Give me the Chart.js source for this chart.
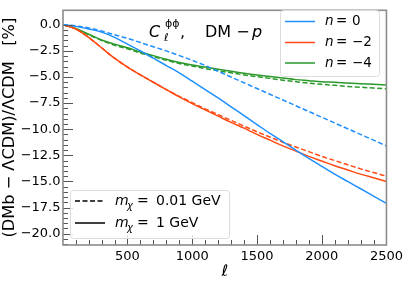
<!DOCTYPE html>
<html><head><meta charset="utf-8">
<script src="https://cdn.jsdelivr.net/npm/chart.js@4"></script>
<style>html,body{margin:0;padding:0;background:#fff}#wrap{width:407px;height:283px}</style>
</head><body><div id="wrap"><canvas id="c" width="407" height="283"></canvas></div>
<script>
const ell = [2,100,200,300,400,500,600,700,800,900,1000,1100,1200,1300,1400,1500,1600,1700,1800,1900,2000,2100,2200,2300,2400,2500];
// n = 0
const n0_001GeV = [0,-0.1,-0.3,-0.6,-0.95,-1.3,-1.7,-2.1,-2.5,-2.95,-3.4,-3.9,-4.45,-5.0,-5.55,-6.1,-6.65,-7.2,-7.75,-8.3,-8.85,-9.4,-9.95,-10.5,-11.05,-11.6];
const n0_1GeV = [0,-0.15,-0.4,-0.7,-1.2,-1.85,-2.5,-3.2,-3.9,-4.6,-5.4,-6.2,-7.0,-7.85,-8.7,-9.55,-10.4,-11.2,-12.0,-12.8,-13.55,-14.3,-15.0,-15.7,-16.4,-17.1];
// n = -2
const n2_001GeV = [0,-0.4,-1.2,-2.2,-3.2,-4.05,-4.8,-5.5,-6.2,-6.85,-7.45,-8.05,-8.6,-9.15,-9.7,-10.25,-10.75,-11.25,-11.7,-12.15,-12.6,-13.0,-13.4,-13.8,-14.15,-14.5];
const n2_1GeV = [0,-0.4,-1.2,-2.2,-3.2,-4.05,-4.8,-5.5,-6.2,-6.9,-7.55,-8.15,-8.75,-9.35,-9.9,-10.5,-11.05,-11.6,-12.1,-12.6,-13.05,-13.5,-13.9,-14.3,-14.65,-15.0];
// n = -4
const n4_001GeV = [0,-0.35,-0.95,-1.5,-1.95,-2.3,-2.7,-3.05,-3.4,-3.7,-3.95,-4.2,-4.4,-4.6,-4.8,-4.97,-5.13,-5.3,-5.45,-5.58,-5.7,-5.8,-5.9,-5.98,-6.06,-6.13];
const n4_1GeV = [0,-0.35,-0.9,-1.45,-1.85,-2.2,-2.6,-2.95,-3.3,-3.6,-3.85,-4.05,-4.25,-4.45,-4.65,-4.8,-4.95,-5.1,-5.25,-5.35,-5.45,-5.5,-5.58,-5.65,-5.7,-5.76];

const xTicks = [500,1000,1500,2000,2500];
const yTicks = [0,-2.5,-5,-7.5,-10,-12.5,-15,-17.5,-20];
const nLabels = ['0','\u22122','\u22124'];
const massLabels = ['0.01 GeV','1 GeV'];

const BLUE='#1e8fff', RED='#ff4a12', GREEN='#2a982a';
const pts = a => ell.map((l,i)=>({x:l,y:a[i]}));
const ds = (a,c,dash)=>({data:pts(a),borderColor:c,borderWidth:1.5,borderDash:dash?[5,2.5]:[],pointRadius:0,fill:false,cubicInterpolationMode:'monotone'});

const FONT='"DejaVu Sans", sans-serif';
const fmtY = v => (v<0?'\u2212':'')+Math.abs(v).toFixed(1);

const deco = {
  id:'deco',
  afterDatasetsDraw(chart){
    const ctx=chart.ctx, a=chart.chartArea, xs=chart.scales.x, ys=chart.scales.y;
    ctx.save();
    ctx.strokeStyle='#555'; ctx.lineWidth=1;
    for(let v=100; v<=2500; v+=100){
      const X=Math.round(xs.getPixelForValue(v))+0.5, L=(v%500===0)?10:5;
      ctx.beginPath(); ctx.moveTo(X,a.bottom); ctx.lineTo(X,a.bottom-L); ctx.stroke();
    }
    for(let k=0; k<=42; k++){
      const v=-k*0.5; if(v<ys.min) break;
      const Y=Math.round(ys.getPixelForValue(v))+0.5, L=(k%5===0)?10:5;
      ctx.beginPath(); ctx.moveTo(a.left,Y); ctx.lineTo(a.left+L,Y); ctx.stroke();
    }
    ctx.strokeStyle='#8c8c8c'; ctx.lineWidth=1.6;
    ctx.strokeRect(a.left,a.top,a.right-a.left,a.bottom-a.top);

    function box(x,y,w,h){
      ctx.fillStyle='rgba(255,255,255,0.8)'; ctx.strokeStyle='#dcdcdc'; ctx.lineWidth=1;
      ctx.beginPath(); ctx.roundRect(x+0.5,y+0.5,w,h,3); ctx.fill(); ctx.stroke();
    }
    ctx.textBaseline='middle'; ctx.textAlign='left';
    box(280,10,99,66);
    const cols=[BLUE,RED,GREEN], rows=[21.5,42.5,63];
    for(let i=0;i<3;i++){
      ctx.strokeStyle=cols[i]; ctx.lineWidth=1.5; ctx.setLineDash([]);
      ctx.beginPath(); ctx.moveTo(285,rows[i]); ctx.lineTo(315,rows[i]); ctx.stroke();
      ctx.fillStyle='#000';
      ctx.font='italic 13.5px '+FONT; ctx.fillText('n',325,rows[i]);
      ctx.font='13.5px '+FONT; ctx.fillText('=',336,rows[i]);
      ctx.fillText(nLabels[i],352,rows[i]);
    }
    box(70,190,159,48);
    const r2=[201,223];
    for(let i=0;i<2;i++){
      ctx.strokeStyle='#000'; ctx.lineWidth=1.5; ctx.setLineDash(i===0?[5,2.5]:[]);
      ctx.beginPath(); ctx.moveTo(75,r2[i]); ctx.lineTo(105,r2[i]); ctx.stroke();
      ctx.setLineDash([]);
      ctx.fillStyle='#000';
      ctx.font='italic 14px '+FONT; ctx.fillText('m',115,r2[i]);
      ctx.font='italic 10px '+FONT; ctx.fillText('\u03c7',127,r2[i]+5);
      ctx.font='14px '+FONT; ctx.fillText('=',137,r2[i]);
      ctx.fillText(massLabels[i],156,r2[i]);
    }
    ctx.textBaseline='alphabetic';
    ctx.font='italic 16px '+FONT; ctx.fillText('C',149,36.5);
    ctx.font='11px '+FONT; ctx.fillText('\u03d5\u03d5',165,27);
    ctx.font='italic 11px '+FONT; ctx.fillText('\u2113',164,41);
    ctx.font='16px '+FONT; ctx.fillText(',',180,36.5);
    ctx.fillText('DM \u2212',205,36.5);
    ctx.font='italic 16px '+FONT; ctx.fillText('p',252,36.5);
    ctx.font='italic 16px '+FONT; ctx.textAlign='center';
    ctx.fillText('\u2113',(a.left+a.right)/2,276);
    ctx.save(); ctx.translate(10,(a.top+a.bottom)/2); ctx.rotate(-Math.PI/2);
    const title='(DMb \u2212 \u039bCDM)/\u039bCDM   [%]';
    ctx.font='15px '+FONT;
    const w=ctx.measureText(title).width;
    ctx.font=(15*220/w).toFixed(2)+'px '+FONT;
    ctx.textBaseline='middle';
    ctx.fillText(title,0,0);
    ctx.restore();
    ctx.restore();
  }
};

new Chart(document.getElementById('c'),{
  type:'line',
  data:{datasets:[
    ds(n0_001GeV,BLUE,true), ds(n0_1GeV,BLUE,false),
    ds(n2_001GeV,RED,true), ds(n2_1GeV,RED,false),
    ds(n4_001GeV,GREEN,true), ds(n4_1GeV,GREEN,false)
  ]},
  options:{
    responsive:false, animation:false, devicePixelRatio:1,
    layout:{padding:{top:3,right:20,left:0,bottom:0}},
    plugins:{legend:{display:false},tooltip:{enabled:false}},
    scales:{
      x:{type:'linear',min:2,max:2500,
        grid:{display:false,drawTicks:false},border:{display:false},
        afterBuildTicks:s=>{s.ticks=xTicks.map(v=>({value:v}));},
        afterFit:s=>{s.height=38;},
        ticks:{padding:4,color:'#000',font:{family:FONT,size:13},callback:v=>String(v),maxRotation:0}
      },
      y:{type:'linear',min:-21.09,max:1.39,
        grid:{display:false,drawTicks:false},border:{display:false},
        afterBuildTicks:s=>{s.ticks=yTicks.map(v=>({value:v}));},
        afterFit:s=>{s.width=63;},
        ticks:{padding:2.5,color:'#000',font:{family:FONT,size:13},callback:v=>fmtY(v)}
      }
    }
  },
  plugins:[deco]
});
</script></body></html>
